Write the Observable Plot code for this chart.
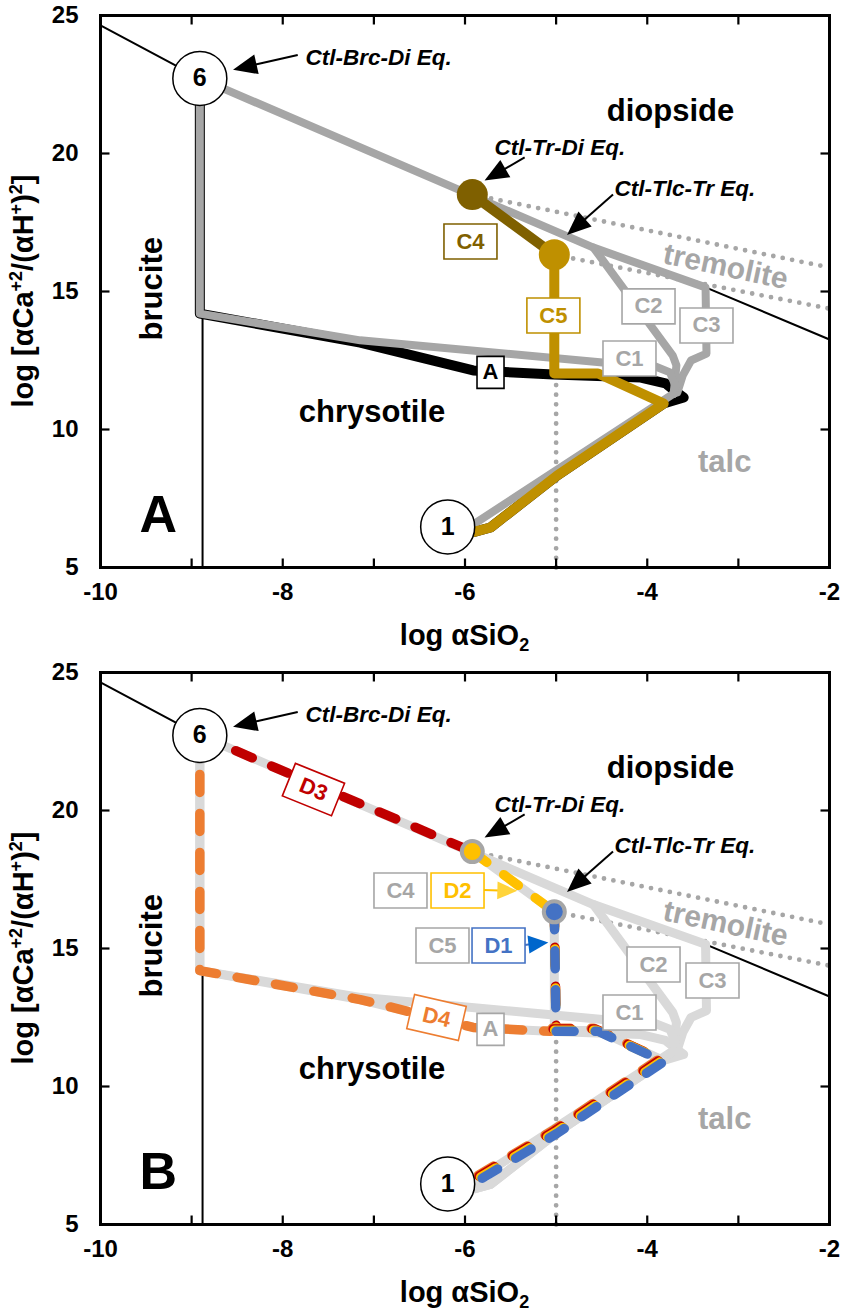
<!DOCTYPE html>
<html>
<head>
<meta charset="utf-8">
<script src="https://cdn.jsdelivr.net/npm/d3@7"></script>
<script src="https://cdn.jsdelivr.net/npm/@observablehq/plot@0.6"></script>
<style>
  body { margin: 0; background: #fff; }
  #chart svg { display: block; }
</style>
</head>
<body>
<div id="chart"></div>
<script>
const FONT = '"Liberation Sans", Arial, Helvetica, sans-serif';

// ---- axes ----
const xDomain = [-10, -2];
const yDomain = [5, 25];
const xTickLabels = [-10, -8, -6, -4, -2];
const yTickLabels = [5, 10, 15, 20, 25];
const xTickMarks = [-9, -8, -7, -6, -5, -4, -3];
const yTickMarks = [10, 15, 20];

// ---- invariant points (log aSiO2, log aCa+2/(aH+)^2) ----
const point6 = [-8.91, 22.72];
const point1 = [-6.19, 6.47];
const ctlTrDi = [-5.92, 18.51];
const ctlTlcTr = [-5.02, 16.33];
const junction = [-3.71, 11.30];

// ---- phase boundaries ----
const brcDiBoundary = [[-10, 24.64], point6];
const brcCtlBoundary = [[-8.88, 5], [-8.88, 14.2]];
const trDiBoundary = [[-3.36, 15.15], [-2, 13.26]];
// metastable extensions and silica line (dotted)
const tlcTrExtension = [ctlTrDi, [-2, 15.87]];
const ctlTrExtension = [ctlTlcTr, [-2, 14.38]];
const silicaLine = [[-5, 5], [-5, 12.0]];

// ---- reaction paths, case A and C1-C5 ----
const pathC3 = [point6, [-4.59, 16.59], [-3.36, 15.15], [-3.35, 12.75], [-3.52, 12.5], [-3.61, 11.96], [-3.67, 11.34], junction];
const pathC2 = [[-4.59, 16.59], [-3.72, 12.68], [-3.68, 12.32], junction];
const pathC1 = [point6, [-8.91, 14.2], [-7.15, 13.23], [-4.49, 12.43], [-3.91, 12.28], [-3.75, 12.07], [-3.69, 11.59], junction];
const pathReturn = [junction, [-5.89, 6.6]];
const pathA = [point6, [-8.91, 14.2], [-7.15, 13.15], [-5.91, 12.14], [-5.03, 11.99], [-4.07, 11.88], [-3.80, 11.67], [-3.69, 11.38], [-3.60, 11.16], [-3.82, 10.94], [-4.99, 8.33], [-5.72, 6.45], [-5.89, 6.30]];
const pathC4 = [ctlTrDi, ctlTlcTr];
const pathC5 = [ctlTlcTr, [-5.02, 12.03], [-4.54, 12.03], [-3.82, 10.94], [-4.99, 8.33], [-5.72, 6.45], [-5.89, 6.30]];

// ---- reaction paths D1-D4 ----
const pathD4 = [point6, [-8.91, 14.2], [-7.15, 13.15], [-5.91, 12.14], [-5.06, 12.0]];
const pathD3 = [point6, ctlTrDi];
const pathD2 = [ctlTrDi, ctlTlcTr];
const pathD1 = [ctlTlcTr, [-5.0, 12.0]];
const pathShared = [[-5.0, 12.0], [-4.54, 12.0], [-3.82, 10.9], [-4.99, 8.3], [-5.85, 6.6]];

// ---- field names ----
const fieldNames = ["diopside", "chrysotile", "talc"];
const fieldX = [-3.745, -7.02, -3.15];
const fieldY = [21.54, 10.62, 8.82];
const fieldColors = ["black", "black", "#a6a6a6"];

// ---- equilibrium callouts ----
const eqNames = ["Ctl-Brc-Di Eq.", "Ctl-Tr-Di Eq.", "Ctl-Tlc-Tr Eq."];
const eqX = [-7.75, -5.676, -4.359];
const eqY = [23.46, 20.21, 18.73];
const eqArrowFrom = [[-7.83, 23.55], [-5.34, 19.84], [-4.37, 18.5]];
const eqArrowTo = [[-8.54, 23.02], [-5.78, 19.0], [-4.875, 17.03]];

// ---- case boxes, panel A ----
const boxNamesA = ["C1", "C2", "C3"];
const boxXA = [-4.195, -3.986, -3.35];
const boxYA = [12.57, 14.46, 13.77];
const boxC4A = [-5.94, 16.81];
const boxC5A = [-5.03, 14.13];
const boxCaseA = [-5.72, 12.07];

// ---- case boxes, panel B ----
const boxNamesB = ["C1", "C2", "C3", "C4", "C5"];
const boxXB = [-4.195, -3.931, -3.284, -6.708, -6.247];
const boxYB = [12.68, 14.42, 13.84, 17.10, 15.11];
const boxD1 = [-5.632, 15.11];
const boxD2 = [-6.082, 17.10];
const boxD3 = [-7.663, 20.76];
const boxD4 = [-6.313, 12.5];
const d1ArrowFrom = [[-5.34, 15.11]];
const d1ArrowTo = [[-5.08, 15.20]];
const d2ArrowFrom = [[-5.79, 17.10]];
const d2ArrowTo = [[-5.42, 17.07]];

// ---------------------------------------------------------------------
const pts = (data, options) => Plot.line(data, {
  x: d => d[0], y: d => d[1], strokeLinejoin: "round", strokeLinecap: "round", ...options
});
const dotted = data => pts(data, {stroke: "#a6a6a6", strokeWidth: 4.8, strokeDasharray: "0,9.6"});
const boxSymbol = (w, h) => ({draw(context) { context.rect(-w / 2, -h / 2, w, h); }});
const tickSymbol = (dx, dy) => ({draw(context) { context.moveTo(0, 0); context.lineTo(dx, dy); }});

function boxes(names, xs, ys, color, {w = 53, h = 35, rotate = 0} = {}) {
  const idx = names.map((_, i) => i);
  return [
    Plot.dot(idx, {x: i => xs[i], y: i => ys[i], symbol: boxSymbol(w, h), fill: "white", stroke: color, strokeWidth: 1.6, rotate}),
    Plot.text(idx, {x: i => xs[i], y: i => ys[i], text: i => names[i], fill: color, fontSize: 22, fontWeight: "bold", rotate})
  ];
}

function arrowMark(from, to, {stroke = "black", head = stroke, width = 2, length = 24, spread = 20} = {}) {
  return (index, {x, y}) => {
    const g = d3.create("svg:g");
    from.forEach((f, i) => {
      const t = to[i];
      const x1 = x(f[0]), y1 = y(f[1]), x2 = x(t[0]), y2 = y(t[1]);
      const a = Math.atan2(y2 - y1, x2 - x1);
      const bx = x2 - length * Math.cos(a), by = y2 - length * Math.sin(a);
      const nx = -Math.sin(a) * spread / 2, ny = Math.cos(a) * spread / 2;
      g.append("line").attr("x1", x1).attr("y1", y1).attr("x2", bx + 2 * Math.cos(a)).attr("y2", by + 2 * Math.sin(a))
        .attr("stroke", stroke).attr("stroke-width", width);
      g.append("path").attr("d", `M${x2},${y2}L${bx + nx},${by + ny}L${bx - nx},${by - ny}Z`).attr("fill", head);
    });
    return g.node();
  };
}

const axisTitles = (index, scales, values, {width, height, marginLeft, marginRight, marginTop, marginBottom}) => {
  const g = d3.create("svg:g").attr("font-family", FONT).attr("font-weight", "bold")
    .attr("font-size", 29).attr("fill", "black");
  const cx = marginLeft + (width - marginLeft - marginRight) / 2;
  const tx = g.append("text").attr("x", cx).attr("y", height - marginBottom + 78).attr("text-anchor", "middle");
  tx.append("tspan").text("log αSiO");
  tx.append("tspan").attr("font-size", 18).attr("dy", 6).text("2");
  const cy = marginTop + (height - marginTop - marginBottom) / 2;
  const ty = g.append("text").attr("transform", `translate(33,${cy}) rotate(-90)`).attr("text-anchor", "middle");
  ty.append("tspan").text("log [αCa");
  ty.append("tspan").attr("font-size", 18).attr("dy", -11).text("+2");
  ty.append("tspan").attr("dy", 11).text("/(αH");
  ty.append("tspan").attr("font-size", 18).attr("dy", -11).text("+");
  ty.append("tspan").attr("dy", 11).text(")");
  ty.append("tspan").attr("font-size", 18).attr("dy", -11).text("2");
  ty.append("tspan").attr("dy", 11).text("]");
  return g.node();
};

// boundaries and field names shared by both panels
function background() {
  return [
    pts(brcDiBoundary, {stroke: "black", strokeWidth: 2}),
    pts(brcCtlBoundary, {stroke: "black", strokeWidth: 2}),
    pts(trDiBoundary, {stroke: "black", strokeWidth: 2}),
    dotted(tlcTrExtension),
    dotted(ctlTrExtension),
    dotted(silicaLine),
    Plot.text(fieldNames, {x: (d, i) => fieldX[i], y: (d, i) => fieldY[i], text: d => d,
      fill: (d, i) => fieldColors[i], fontSize: 31, fontWeight: "bold"}),
    Plot.text(["brucite"], {x: -9.43, y: 15.1, text: d => d, rotate: -90, fontSize: 31, fontWeight: "bold"}),
    Plot.text(["tremolite"], {x: -3.14, y: 15.9, text: d => d, rotate: 12, fontSize: 30, fontWeight: "bold", fill: "#a6a6a6"})
  ];
}

// end-member circles and equilibrium callouts
function foreground() {
  return [
    Plot.dot([point6, point1], {x: d => d[0], y: d => d[1], r: 27, fill: "white", stroke: "black", strokeWidth: 1.5}),
    Plot.text([point6, point1], {x: d => d[0], y: d => d[1], text: ["6", "1"], fontSize: 25, fontWeight: "bold"}),
    Plot.text(eqNames, {x: (d, i) => eqX[i], y: (d, i) => eqY[i], text: d => d, textAnchor: "start",
      fontSize: 22.5, fontWeight: "bold", fontStyle: "italic"}),
    arrowMark(eqArrowFrom, eqArrowTo)
  ];
}

function axes(letter) {
  return [
    Plot.axisX({ticks: xTickLabels, tickSize: 0, tickPadding: 15, tickFormat: d => String(d),
      fontSize: 24, fontWeight: "bold", label: null}),
    Plot.axisY({ticks: yTickLabels, tickSize: 0, tickPadding: 22, tickFormat: d => String(d),
      fontSize: 24, fontWeight: "bold", label: null}),
    Plot.dot(xTickMarks, {x: d => d, frameAnchor: "bottom", symbol: tickSymbol(0, -9), fill: "none", stroke: "black", strokeWidth: 2.2}),
    Plot.dot(xTickMarks, {x: d => d, frameAnchor: "top", symbol: tickSymbol(0, 9), fill: "none", stroke: "black", strokeWidth: 2.2}),
    Plot.dot(yTickMarks, {y: d => d, frameAnchor: "left", symbol: tickSymbol(9, 0), fill: "none", stroke: "black", strokeWidth: 2.2}),
    Plot.dot(yTickMarks, {y: d => d, frameAnchor: "right", symbol: tickSymbol(-9, 0), fill: "none", stroke: "black", strokeWidth: 2.2}),
    Plot.frame({stroke: "black", strokeWidth: 3}),
    Plot.text([letter], {frameAnchor: "bottom-left", dx: 39, dy: -36, text: d => d, fontSize: 52, fontWeight: "bold"}),
    axisTitles
  ];
}

function panel(letter, marks) {
  return Plot.plot({
    width: 845,
    height: 656,
    marginTop: letter === "A" ? 15 : 16,
    marginBottom: letter === "A" ? 89 : 88,
    marginLeft: 100,
    marginRight: 16,
    x: {domain: xDomain, axis: null},
    y: {domain: yDomain, axis: null},
    style: {fontFamily: FONT, background: "white", color: "black", overflow: "visible"},
    marks: [...background(), ...marks, ...foreground(), ...axes(letter)]
  });
}

// ---- panel A: equilibrium paths ----
const GRAY = "#a6a6a6";
const GOLD = "#bf9000";
const BROWN = "#7f6000";
const panelA = panel("A", [
  pts(pathA, {stroke: "black", strokeWidth: 10}),
  pts(pathC3, {stroke: GRAY, strokeWidth: 8}),
  pts(pathC2, {stroke: GRAY, strokeWidth: 8}),
  pts(pathC1, {stroke: GRAY, strokeWidth: 8}),
  pts(pathReturn, {stroke: GRAY, strokeWidth: 8}),
  pts(pathC5, {stroke: GOLD, strokeWidth: 10}),
  pts(pathC4, {stroke: BROWN, strokeWidth: 10}),
  Plot.dot([ctlTrDi], {x: d => d[0], y: d => d[1], r: 15.5, fill: BROWN}),
  Plot.dot([ctlTlcTr], {x: d => d[0], y: d => d[1], r: 15.5, fill: GOLD}),
  ...boxes(boxNamesA, boxXA, boxYA, GRAY),
  ...boxes(["C4"], [boxC4A[0]], [boxC4A[1]], BROWN),
  ...boxes(["C5"], [boxC5A[0]], [boxC5A[1]], GOLD),
  ...boxes(["A"], [boxCaseA[0]], [boxCaseA[1]], "black", {w: 27, h: 32})
]);

// ---- panel B: disequilibrium paths ----
const LIGHT = "#d9d9d9";
const RED = "#c00000";
const YELLOW = "#ffc000";
const BLUE = "#4472c4";
const ORANGE = "#ed7d31";
const DASH = "18,21";
const dashed = (data, stroke, dx = 0, dy = 0) => pts(data, {stroke, strokeWidth: 9.5, strokeDasharray: DASH, dx, dy});
const panelB = panel("B", [
  ...[pathA, pathC3, pathC2, pathC1, pathReturn, pathC5, pathC4].map(p => pts(p, {stroke: LIGHT, strokeWidth: 9})),
  dashed(pathD4, ORANGE),
  dashed(pathD3, RED),
  dashed(pathD2, YELLOW),
  dashed(pathD1, RED, 0, -3.5),
  dashed(pathD1, YELLOW, 0, -1.8),
  dashed(pathD1, BLUE),
  dashed(pathShared, ORANGE, -4, -3),
  dashed(pathShared, RED, -3, -2.2),
  dashed(pathShared, YELLOW, -1.5, -1.1),
  dashed(pathShared, BLUE),
  Plot.dot([ctlTrDi], {x: d => d[0], y: d => d[1], r: 10.5, fill: YELLOW, stroke: GRAY, strokeWidth: 4}),
  Plot.dot([ctlTlcTr], {x: d => d[0], y: d => d[1], r: 10.5, fill: BLUE, stroke: GRAY, strokeWidth: 4}),
  ...boxes(boxNamesB, boxXB, boxYB, GRAY),
  ...boxes(["A"], [boxCaseA[0]], [boxCaseA[1]], GRAY, {w: 27, h: 32}),
  arrowMark(d2ArrowFrom, d2ArrowTo, {stroke: YELLOW, head: "#ffd43b", length: 20, spread: 18}),
  arrowMark(d1ArrowFrom, d1ArrowTo, {stroke: BLUE, head: "#0066cc", length: 20, spread: 18}),
  ...boxes(["D1"], [boxD1[0]], [boxD1[1]], BLUE),
  ...boxes(["D2"], [boxD2[0]], [boxD2[1]], YELLOW),
  ...boxes(["D3"], [boxD3[0]], [boxD3[1]], RED, {rotate: 22}),
  ...boxes(["D4"], [boxD4[0]], [boxD4[1]], ORANGE, {rotate: 13})
]);

const chart = document.getElementById("chart");
chart.append(panelA, panelB);
</script>
</body>
</html>
